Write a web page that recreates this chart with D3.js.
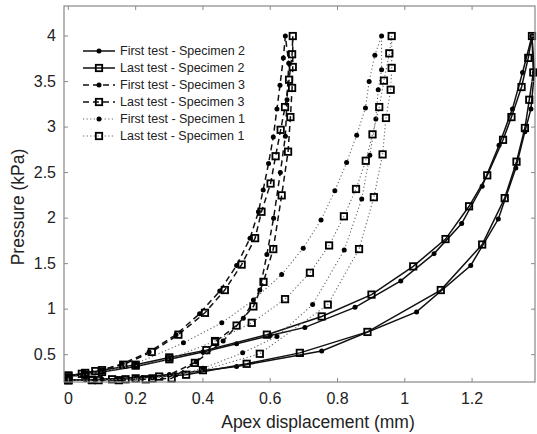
<!DOCTYPE html>
<html>
<head>
<meta charset="utf-8">
<script src="https://cdn.jsdelivr.net/npm/d3@7"></script>
<style>
  body { margin: 0; background: #fff; }
  text { font-family: "Liberation Sans", Arial, sans-serif; fill: #222; }
</style>
</head>
<body>
<svg id="chart" width="537" height="434"></svg>
<script>
// Specimen 2 (solid)
const s2FirstX = [0, 0.04, 0.1, 0.2, 0.3, 0.4, 0.5, 0.6, 0.703, 0.852, 0.988, 1.087, 1.169, 1.23, 1.28, 1.32, 1.35, 1.378, 1.385, 1.375, 1.357, 1.33, 1.278, 1.196, 1.035, 0.753, 0.5, 0.3, 0.2, 0.1, 0.05, 0];
const s2FirstY = [0.26, 0.28, 0.31, 0.37, 0.45, 0.53, 0.62, 0.71, 0.80, 1.02, 1.31, 1.61, 1.94, 2.35, 2.8, 3.2, 3.6, 4.0, 3.6, 3.2, 2.95, 2.55, 1.99, 1.48, 0.97, 0.54, 0.37, 0.28, 0.25, 0.23, 0.225, 0.22];
const s2LastX = [0, 0.05, 0.1, 0.2, 0.3, 0.41, 0.59, 0.753, 0.901, 1.025, 1.121, 1.191, 1.245, 1.292, 1.317, 1.347, 1.367, 1.378, 1.382, 1.37, 1.357, 1.332, 1.297, 1.23, 1.107, 0.889, 0.688, 0.53, 0.35, 0.27, 0.2, 0.13, 0.07, 0];
const s2LastY = [0.27, 0.30, 0.33, 0.39, 0.47, 0.55, 0.72, 0.92, 1.16, 1.47, 1.77, 2.13, 2.47, 2.86, 3.11, 3.44, 3.76, 4.0, 3.6, 3.3, 2.99, 2.62, 2.22, 1.71, 1.21, 0.75, 0.52, 0.40, 0.28, 0.26, 0.24, 0.23, 0.225, 0.22];

// Specimen 3 (dashed)
const s3FirstX = [0, 0.05, 0.1, 0.16, 0.24, 0.32, 0.39, 0.45, 0.5, 0.54, 0.565, 0.579, 0.595, 0.609, 0.62, 0.629, 0.639, 0.645, 0.655, 0.65, 0.645, 0.63, 0.61, 0.59, 0.569, 0.52, 0.46, 0.38, 0.3, 0.22, 0.15, 0.08, 0];
const s3FirstY = [0.27, 0.30, 0.33, 0.40, 0.53, 0.72, 0.95, 1.2, 1.48, 1.78, 2.07, 2.31, 2.6, 2.89, 3.2, 3.46, 3.76, 4.0, 3.7, 3.3, 2.9, 2.5, 2.0, 1.6, 1.21, 0.9, 0.65, 0.42, 0.28, 0.25, 0.23, 0.225, 0.22];
const s3LastX = [0, 0.04, 0.08, 0.163, 0.248, 0.327, 0.406, 0.465, 0.515, 0.555, 0.574, 0.601, 0.616, 0.631, 0.644, 0.656, 0.665, 0.667, 0.667, 0.665, 0.66, 0.653, 0.634, 0.609, 0.58, 0.55, 0.5, 0.436, 0.376, 0.307, 0.23, 0.15, 0.07, 0];
const s3LastY = [0.27, 0.29, 0.32, 0.39, 0.53, 0.72, 0.96, 1.21, 1.49, 1.78, 2.07, 2.38, 2.68, 2.97, 3.22, 3.52, 3.8, 4.0, 3.66, 3.43, 3.11, 2.73, 2.25, 1.66, 1.3, 1.03, 0.82, 0.64, 0.41, 0.24, 0.23, 0.22, 0.22, 0.22];

// Specimen 1 (dotted)
const s1FirstX = [0, 0.05, 0.1, 0.2, 0.342, 0.456, 0.55, 0.634, 0.698, 0.751, 0.792, 0.827, 0.857, 0.883, 0.894, 0.911, 0.931, 0.931, 0.921, 0.914, 0.896, 0.872, 0.82, 0.726, 0.62, 0.518, 0.4, 0.32, 0.25, 0.16, 0.08, 0];
const s1FirstY = [0.25, 0.28, 0.31, 0.4, 0.63, 0.85, 1.1, 1.38, 1.67, 1.98, 2.30, 2.61, 2.91, 3.21, 3.50, 3.79, 4.0, 3.63, 3.41, 3.09, 2.69, 2.21, 1.65, 1.05, 0.7, 0.52, 0.35, 0.28, 0.25, 0.23, 0.22, 0.22];
const s1LastX = [0, 0.05, 0.1, 0.2, 0.3, 0.436, 0.545, 0.644, 0.718, 0.775, 0.819, 0.855, 0.884, 0.904, 0.924, 0.938, 0.954, 0.961, 0.961, 0.958, 0.944, 0.934, 0.908, 0.864, 0.771, 0.569, 0.4, 0.25, 0.17, 0.09, 0];
const s1LastY = [0.25, 0.28, 0.31, 0.38, 0.45, 0.65, 0.85, 1.11, 1.40, 1.70, 2.02, 2.32, 2.63, 2.92, 3.22, 3.51, 3.81, 4.0, 3.65, 3.41, 3.10, 2.70, 2.23, 1.66, 1.05, 0.51, 0.33, 0.24, 0.23, 0.22, 0.22];

const seriesNames = ["First test - Specimen 2", "Last test - Specimen 2", "First test - Specimen 3",
                     "Last test - Specimen 3", "First test - Specimen 1", "Last test - Specimen 1"];
const xTicks = [0, 0.2, 0.4, 0.6, 0.8, 1, 1.2];
const yTicks = [0.5, 1, 1.5, 2, 2.5, 3, 3.5, 4];

const series = [
  { name: seriesNames[0], xs: s2FirstX, ys: s2FirstY, dash: null, color: "#111", width: 1.5, marker: "dot" },
  { name: seriesNames[1], xs: s2LastX, ys: s2LastY, dash: null, color: "#111", width: 1.5, marker: "square" },
  { name: seriesNames[2], xs: s3FirstX, ys: s3FirstY, dash: "6,4", color: "#111", width: 1.5, marker: "dot" },
  { name: seriesNames[3], xs: s3LastX, ys: s3LastY, dash: "6,4", color: "#111", width: 1.5, marker: "square" },
  { name: seriesNames[4], xs: s1FirstX, ys: s1FirstY, dash: "1.2,2.4", color: "#666", width: 1.1, marker: "dot" },
  { name: seriesNames[5], xs: s1LastX, ys: s1LastY, dash: "1.2,2.4", color: "#666", width: 1.1, marker: "square" },
];

const svg = d3.select("#chart");
const mLeft = 64, mRight = 535, mTop = 6, mBottom = 382;

const x = d3.scaleLinear().domain([-0.013, 1.387]).range([mLeft, mRight]);
const y = d3.scaleLinear().domain([0.2, 4.33]).range([mBottom, mTop]);

const plot = svg.append("g");

const line = d3.line().x(d => x(d[0])).y(d => y(d[1]));

function drawMarker(g, kind, cx, cy) {
  if (kind === "dot") {
    g.append("circle").attr("cx", cx).attr("cy", cy).attr("r", 2.5).attr("fill", "#000");
  } else {
    g.append("rect").attr("x", cx - 3.2).attr("y", cy - 3.2).attr("width", 6.4).attr("height", 6.4)
      .attr("fill", "none").attr("stroke", "#000").attr("stroke-width", 1.8);
  }
}

series.forEach(s => {
  const pts = s.xs.map((v, i) => [v, s.ys[i]]);
  plot.append("path")
    .attr("d", line(pts))
    .attr("fill", "none")
    .attr("stroke", s.color)
    .attr("stroke-width", s.width)
    .attr("stroke-dasharray", s.dash);
  pts.forEach(p => drawMarker(plot, s.marker, x(p[0]), y(p[1])));
});

// frame + inward ticks on all sides
const frame = svg.append("g").attr("stroke", "#888").attr("fill", "none");
frame.append("rect").attr("x", mLeft).attr("y", mTop).attr("width", mRight - mLeft).attr("height", mBottom - mTop).attr("stroke-width", 1.2);
xTicks.forEach(t => {
  frame.append("line").attr("x1", x(t)).attr("x2", x(t)).attr("y1", mBottom).attr("y2", mBottom - 4);
  frame.append("line").attr("x1", x(t)).attr("x2", x(t)).attr("y1", mTop).attr("y2", mTop + 4);
});
yTicks.forEach(t => {
  frame.append("line").attr("x1", mLeft).attr("x2", mLeft + 4).attr("y1", y(t)).attr("y2", y(t));
  frame.append("line").attr("x1", mRight).attr("x2", mRight - 4).attr("y1", y(t)).attr("y2", y(t));
});

svg.append("g").selectAll("text").data(xTicks).enter().append("text")
  .attr("x", d => x(d)).attr("y", 404)
  .attr("text-anchor", "middle").attr("font-size", 16)
  .text(d => d);

svg.append("g").selectAll("text").data(yTicks).enter().append("text")
  .attr("x", 56).attr("y", d => y(d) + 5)
  .attr("text-anchor", "end").attr("font-size", 16)
  .text(d => d);

svg.append("text").attr("x", 318).attr("y", 428).attr("text-anchor", "middle")
  .attr("font-size", 17.5).text("Apex displacement (mm)");
svg.append("text").attr("transform", "translate(24,207) rotate(-90)").attr("text-anchor", "middle")
  .attr("font-size", 17.5).text("Pressure (kPa)");

// legend
const legend = svg.append("g");
series.forEach((s, i) => {
  const ly = 51 + i * 17;
  legend.append("line").attr("x1", 83).attr("x2", 115).attr("y1", ly).attr("y2", ly)
    .attr("stroke", s.color).attr("stroke-width", s.width).attr("stroke-dasharray", s.dash);
  drawMarker(legend, s.marker, 99, ly);
  legend.append("text").attr("x", 120).attr("y", ly + 4).attr("font-size", 12.5).text(s.name);
});
</script>
</body>
</html>
